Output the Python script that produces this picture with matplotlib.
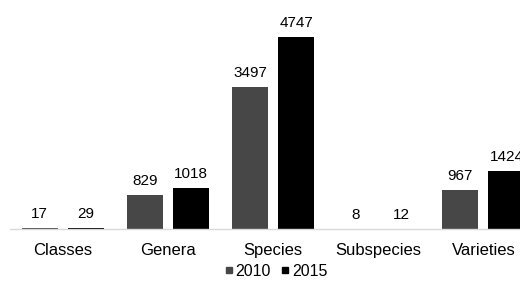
import matplotlib
matplotlib.use("Agg")
import matplotlib.pyplot as plt
from matplotlib.lines import Line2D
import numpy as np

plt.rcParams['font.family'] = ['Liberation Sans', 'DejaVu Sans']

categories = ["Classes", "Genera", "Species", "Subspecies", "Varieties"]
values_2010 = [17, 829, 3497, 8, 967]
values_2015 = [29, 1018, 4747, 12, 1424]
series_names = ["2010", "2015"]
colors = ["#474747", "#000000"]

fig = plt.figure(figsize=(5.2, 2.87), dpi=100)
ax = fig.add_axes([10/520, 58/287, 510/520, 229/287])

x = np.arange(len(categories))
w = 0.343
off = 0.219
b1 = ax.bar(x - off, values_2010, w, color=colors[0])
b2 = ax.bar(x + off, values_2015, w, color=colors[1])

for bars, vals in ((b1, values_2010), (b2, values_2015)):
    for r, v in zip(bars, vals):
        ax.annotate(str(v), (r.get_x() + r.get_width()/2, r.get_height()),
                    xytext=(0, 5), textcoords="offset points",
                    ha="center", va="bottom", fontsize=11, color="#000000")

ax.set_xlim(-0.5, 4.348)
ax.set_ylim(0, 5654)
ax.set_xticks(x)
ax.set_xticklabels(categories, fontsize=12)
ax.tick_params(axis='x', length=0, pad=10)
ax.set_yticks([])
for s in ("top", "right", "left"):
    ax.spines[s].set_visible(False)
ax.spines["bottom"].set_color("#d9d9d9")
ax.spines["bottom"].set_linewidth(1)
ax.patch.set_alpha(0)

handles = [Line2D([], [], marker='s', linestyle='none', markersize=5,
                  markerfacecolor=c, markeredgecolor=c) for c in colors]
fig.legend(handles, series_names, loc="center", bbox_to_anchor=(275/520, 16/287),
           ncol=2, frameon=False, fontsize=11.5, handletextpad=0.0,
           columnspacing=0.5, handlelength=0.8, borderpad=0)

fig.savefig("out.png", dpi=100)
